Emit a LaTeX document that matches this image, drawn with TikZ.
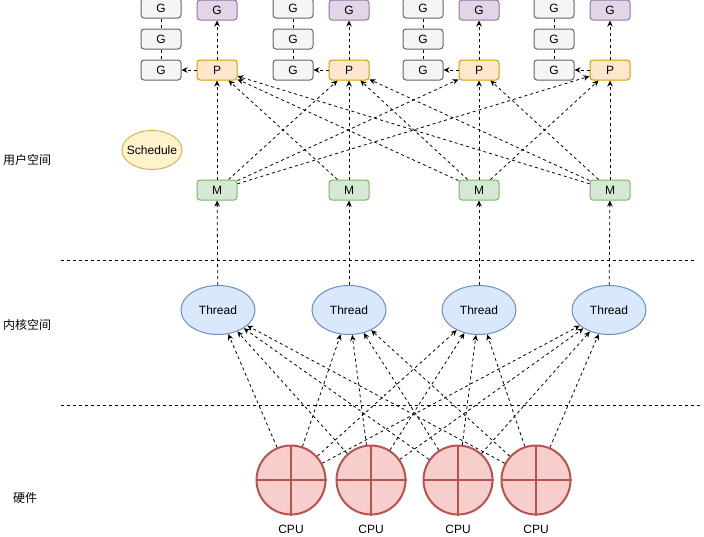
\documentclass[tikz,border=0pt]{standalone}
\usepackage{fontspec}
\setmainfont{Liberation Sans}
\newfontfamily\cjk{Noto Sans CJK SC}
\usepackage{tikz}
\usetikzlibrary{positioning, arrows.meta, shapes.geometric}
\usepackage{xcolor}
\definecolor{gfill}{HTML}{F5F5F5}
\definecolor{gline}{HTML}{666666}
\definecolor{rfill}{HTML}{E1D5E7}
\definecolor{rline}{HTML}{9673A6}
\definecolor{pfill}{HTML}{FFE6CC}
\definecolor{pline}{HTML}{D79B00}
\definecolor{mfill}{HTML}{D5E8D4}
\definecolor{mline}{HTML}{82B366}
\definecolor{tfill}{HTML}{DAE8FC}
\definecolor{tline}{HTML}{6C8EBF}
\definecolor{cfill}{HTML}{F8CECC}
\definecolor{cline}{HTML}{B85450}
\definecolor{sfill}{HTML}{FFF2CC}
\definecolor{sline}{HTML}{D6B656}

\begin{document}
\begin{tikzpicture}[
    x=1pt, y=-1pt,
    node distance=10pt,
    every node/.style={font=\fontsize{12}{14}\selectfont},
    box/.style={draw, rounded corners=3pt, line width=1pt, inner sep=0pt,
                minimum width=40pt, minimum height=20pt},
    gbox/.style={box, fill=gfill, draw=gline},
    runbox/.style={box, fill=rfill, draw=rline},
    pbox/.style={box, fill=pfill, draw=pline},
    mbox/.style={box, fill=mfill, draw=mline},
    thread/.style={ellipse, draw=tline, fill=tfill, line width=1pt, inner sep=0pt,
                   minimum width=74pt, minimum height=49pt},
    cpu/.style={circle, draw=cline, fill=cfill, line width=2pt, inner sep=0pt,
                minimum size=69pt},
    sched/.style={ellipse, draw=sline, fill=sfill, line width=1pt,
                  inner xsep=-8pt, inner ysep=0pt,
                  minimum width=60pt, minimum height=39pt},
    zone/.style={font=\cjk\fontsize{12}{14}\selectfont},
    link/.style={dash pattern=on 3pt off 3pt, line width=0.8pt},
    arr/.style={link, -{Stealth[length=6pt,width=5.5pt]}}
  ]
    \useasboundingbox (0,0) rectangle (704,536);

    % zones
    \node[zone] (user) at (27,160) {用户空间};
    \node[zone] (kernel) at (27,325) {内核空间};
    \node[zone] (hw) at (25,498) {硬件};
    \coordinate (sepa) at (61,260);
    \coordinate (sepb) at (695,260);
    \coordinate (sepc) at (61,405);
    \coordinate (sepd) at (700,405);
    \draw[link] (sepa) -- (sepb);
    \draw[link] (sepc) -- (sepd);

    \node[sched] (sch) at (152,150) {Schedule};

    % P, running G and local queues
    \node[pbox] (p1) at (217,70) {P};
    \node[pbox] (p2) at (349,70) {P};
    \node[pbox] (p3) at (479,70) {P};
    \node[pbox] (p4) at (610,70) {P};
    \node[runbox] (r1) at (217,10) {G};
    \node[runbox] (r2) at (349,10) {G};
    \node[runbox] (r3) at (479,10) {G};
    \node[runbox] (r4) at (610,10) {G};
    \node[gbox] (q1c) at (161,70) {G};
    \node[gbox, above=of q1c] (q1b) {G};
    \node[gbox, above=of q1b] (q1a) {G};
    \node[gbox] (q2c) at (293,70) {G};
    \node[gbox, above=of q2c] (q2b) {G};
    \node[gbox, above=of q2b] (q2a) {G};
    \node[gbox] (q3c) at (423,70) {G};
    \node[gbox, above=of q3c] (q3b) {G};
    \node[gbox, above=of q3b] (q3a) {G};
    \node[gbox] (q4c) at (554,70) {G};
    \node[gbox, above=of q4c] (q4b) {G};
    \node[gbox, above=of q4b] (q4a) {G};

    % M and threads
    \node[mbox] (m1) at (217,190) {M};
    \node[mbox] (m2) at (349,190) {M};
    \node[mbox] (m3) at (479,190) {M};
    \node[mbox] (m4) at (610,190) {M};
    \node[thread] (t1) at (218,310) {Thread};
    \node[thread] (t2) at (349,310) {Thread};
    \node[thread] (t3) at (479,310) {Thread};
    \node[thread] (t4) at (609,310) {Thread};

    % CPUs
    \node[cpu] (c1) at (291,480) {};
    \node[cpu] (c2) at (371,480) {};
    \node[cpu] (c3) at (458,480) {};
    \node[cpu] (c4) at (536,480) {};
    \draw[cline, line width=2pt] (c1.north) -- (c1.south) (c1.west) -- (c1.east);
    \draw[cline, line width=2pt] (c2.north) -- (c2.south) (c2.west) -- (c2.east);
    \draw[cline, line width=2pt] (c3.north) -- (c3.south) (c3.west) -- (c3.east);
    \draw[cline, line width=2pt] (c4.north) -- (c4.south) (c4.west) -- (c4.east);
    \node (c1l) at (291,529) {CPU};
    \node (c2l) at (371,529) {CPU};
    \node (c3l) at (458,529) {CPU};
    \node (c4l) at (536,529) {CPU};

    % queues
    \draw[link] (q1a) -- (q1b) -- (q1c);
    \draw[link] (q2a) -- (q2b) -- (q2c);
    \draw[link] (q3a) -- (q3b) -- (q3c);
    \draw[link] (q4a) -- (q4b) -- (q4c);
    \draw[arr] (p1) -- (q1c);
    \draw[arr] (p2) -- (q2c);
    \draw[arr] (p3) -- (q3c);
    \draw[arr] (p4) -- (q4c);
    \draw[arr] (p1) -- (r1);
    \draw[arr] (p2) -- (r2);
    \draw[arr] (p3) -- (r3);
    \draw[arr] (p4) -- (r4);

    % M -> P
    \draw[arr] (m1) -- (p1);
    \draw[arr] (m1) -- (p2);
    \draw[arr] (m1) -- (p3);
    \draw[arr] (m1) -- (p4);
    \draw[arr] (m2) -- (p1);
    \draw[arr] (m2) -- (p2);
    \draw[arr] (m3) -- (p1);
    \draw[arr] (m3) -- (p2);
    \draw[arr] (m3) -- (p3);
    \draw[arr] (m3) -- (p4);
    \draw[arr] (m4) -- (p1);
    \draw[arr] (m4) -- (p2);
    \draw[arr] (m4) -- (p3);
    \draw[arr] (m4) -- (p4);

    % thread -> M
    \draw[arr] (t1) -- (m1);
    \draw[arr] (t2) -- (m2);
    \draw[arr] (t3) -- (m3);
    \draw[arr] (t4) -- (m4);

    % CPU -> thread
    \draw[arr] (c1) -- (t1);
    \draw[arr] (c1) -- (t2);
    \draw[arr] (c1) -- (t3);
    \draw[arr] (c1) -- (t4);
    \draw[arr] (c2) -- (t1);
    \draw[arr] (c2) -- (t2);
    \draw[arr] (c2) -- (t3);
    \draw[arr] (c2) -- (t4);
    \draw[arr] (c3) -- (t1);
    \draw[arr] (c3) -- (t2);
    \draw[arr] (c3) -- (t3);
    \draw[arr] (c3) -- (t4);
    \draw[arr] (c4) -- (t1);
    \draw[arr] (c4) -- (t2);
    \draw[arr] (c4) -- (t3);
    \draw[arr] (c4) -- (t4);
  \end{tikzpicture}
\end{document}
